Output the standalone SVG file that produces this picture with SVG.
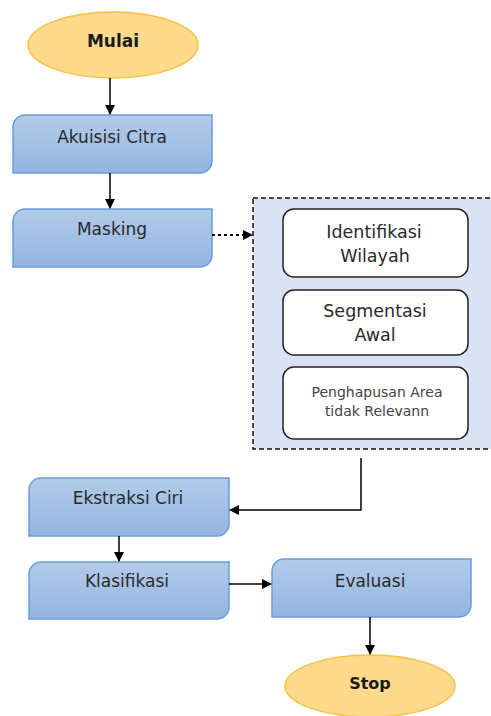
<svg xmlns="http://www.w3.org/2000/svg" width="491" height="716" viewBox="0 0 491 716">
<defs>
<linearGradient id="blueGrad" x1="0" y1="0" x2="0" y2="1">
<stop offset="0" stop-color="#B3CBEA"/>
<stop offset="1" stop-color="#93B5E0"/>
</linearGradient>
<marker id="arr" markerWidth="10" markerHeight="10" refX="9" refY="5" orient="auto" markerUnits="userSpaceOnUse">
<path d="M0,0 L10,5 L0,10 Z" fill="#000"/>
</marker>
</defs>
<style>
.term{fill:#FFD98C;stroke:#F6C244;stroke-width:1.5}
.proc{fill:url(#blueGrad);stroke:#6A9DD8;stroke-width:1.5}
.sub{fill:#FFFFFF;stroke:#222;stroke-width:1.5}
.grp{fill:#DAE3F3;stroke:#111;stroke-width:1.5;stroke-dasharray:5,3}
.lbl{font-family:"DejaVu Sans","Noto Sans",sans-serif;font-size:17px;fill:#2a2a2a;text-anchor:middle}
.blbl{font-family:"DejaVu Sans","Noto Sans",sans-serif;font-size:16px;font-weight:bold;fill:#1a1a1a;text-anchor:middle}
.slbl{font-family:"DejaVu Sans","Noto Sans",sans-serif;font-size:17.5px;fill:#2a2a2a;text-anchor:middle}
.tlbl{font-family:"DejaVu Sans","Noto Sans",sans-serif;font-size:14px;fill:#444;text-anchor:middle}
.conn{fill:none;stroke:#000;stroke-width:1.5}
.dash{stroke-dasharray:3,3;stroke-width:1.8}
</style>
<g id="group-masking-detail">
<rect class="grp" x="253" y="198" width="240" height="251"/>
</g>
<g id="mulai">
<ellipse class="term" cx="113" cy="45" rx="85" ry="33"/>
<text class="blbl" x="113" y="47" style="font-size:17px">Mulai</text>
</g>
<g id="akuisisi">
<path class="proc" d="M25,115 H212 V161 A12,12 0 0 1 200,173 H13 V127 A12,12 0 0 1 25,115 Z"/>
<text class="lbl" x="112" y="143">Akuisisi Citra</text>
</g>
<g id="masking">
<path class="proc" d="M25,209 H212 V255 A12,12 0 0 1 200,267 H13 V221 A12,12 0 0 1 25,209 Z"/>
<text class="lbl" x="112" y="235">Masking</text>
</g>
<g id="identifikasi">
<rect class="sub" x="283" y="209" width="185" height="68" rx="11"/>
<text class="slbl" x="374" y="238">Identifikasi</text>
<text class="slbl" x="375" y="262">Wilayah</text>
</g>
<g id="segmentasi">
<rect class="sub" x="283" y="290" width="185" height="65" rx="11"/>
<text class="slbl" x="375" y="317">Segmentasi</text>
<text class="slbl" x="375" y="341">Awal</text>
</g>
<g id="penghapusan">
<rect class="sub" x="283" y="367" width="185" height="72" rx="11"/>
<text class="tlbl" x="377" y="397">Penghapusan Area</text>
<text class="tlbl" x="377" y="416">tidak Relevann</text>
</g>
<g id="ekstraksi">
<path class="proc" d="M41,478 H229 V524 A12,12 0 0 1 217,536 H29 V490 A12,12 0 0 1 41,478 Z"/>
<text class="lbl" x="128" y="504">Ekstraksi Ciri</text>
</g>
<g id="klasifikasi">
<path class="proc" d="M41,562 H229 V607 A12,12 0 0 1 217,619 H29 V574 A12,12 0 0 1 41,562 Z"/>
<text class="lbl" x="127" y="587">Klasifikasi</text>
</g>
<g id="evaluasi">
<path class="proc" d="M284,559 H471 V605 A12,12 0 0 1 459,617 H272 V571 A12,12 0 0 1 284,559 Z"/>
<text class="lbl" x="370" y="587">Evaluasi</text>
</g>
<g id="stop">
<ellipse class="term" cx="370" cy="686" rx="85" ry="31"/>
<text class="blbl" x="370" y="689">Stop</text>
</g>
<g id="connectors">
<line class="conn" x1="110" y1="78" x2="110" y2="114" marker-end="url(#arr)"/>
<line class="conn" x1="110" y1="173" x2="110" y2="208" marker-end="url(#arr)"/>
<line class="conn dash" x1="212" y1="235" x2="252" y2="235" marker-end="url(#arr)"/>
<polyline class="conn" points="361,458 361,510 230,510" marker-end="url(#arr)"/>
<line class="conn" x1="119" y1="536" x2="119" y2="561" marker-end="url(#arr)"/>
<line class="conn" x1="229" y1="584" x2="271" y2="584" marker-end="url(#arr)"/>
<line class="conn" x1="370" y1="617" x2="370" y2="654" marker-end="url(#arr)"/>
</g>
</svg>
